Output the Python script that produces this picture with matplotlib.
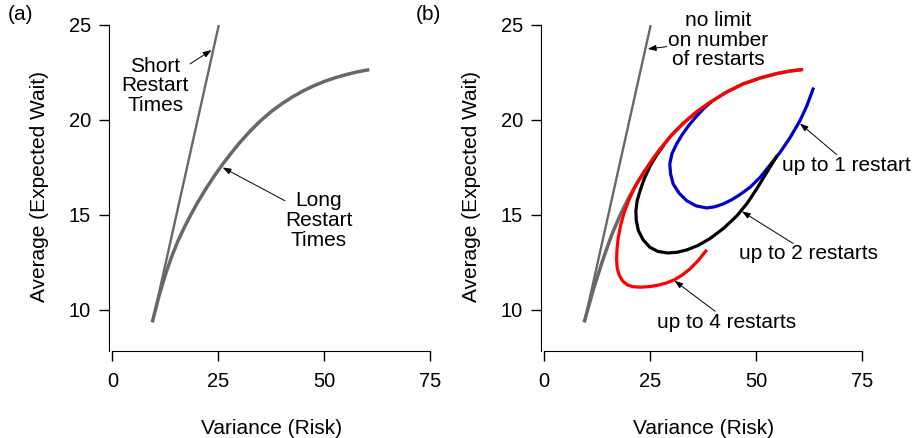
import matplotlib.pyplot as plt

plt.rcParams['font.family'] = ['Liberation Sans', 'DejaVu Sans']

# straight line (short restart times / no limit on restarts)
short_x = [9.45, 25.1]
short_y = [9.35, 25.0]

# panel (a): curved line, long restart times
long_x = [9.4, 11.0, 12.5, 14.0, 15.5, 17.0, 18.5, 20.0, 22.0, 24.0, 26.0, 28.0, 30.0, 32.5, 35.0,
          37.5, 40.0, 42.5, 45.0, 47.5, 50.0, 52.5, 55.0, 57.5, 60.6]
long_y = [9.35, 10.74, 11.86, 12.82, 13.65, 14.36, 15.01, 15.62, 16.36, 17.04, 17.67, 18.25, 18.8, 19.42, 19.97,
          20.45, 20.86, 21.22, 21.53, 21.8, 22.03, 22.22, 22.38, 22.52, 22.65]

# panel (b): gray curved envelope
env_x = [9.4, 11.6, 13.9, 15.9, 17.9, 19.9, 21.8, 23.5, 25.4, 27.3, 30.0, 32.8, 35.9, 39.1, 43.0,
         46.9, 50.9, 54.8, 57.8, 60.7]
env_y = [9.35, 11.1, 12.7, 13.95, 15.0, 15.9, 16.65, 17.25, 17.88, 18.46, 19.2, 19.83, 20.42, 20.93, 21.47,
         21.9, 22.21, 22.44, 22.57, 22.65]

# up to 4 restarts (red)
four_x = [38.1, 36.3, 34.4, 32.6, 30.8, 28.8, 26.8, 24.8, 22.8, 21.0, 19.6, 18.5, 17.7, 17.2, 17.05, 17.15,
          17.45, 18.0, 18.8, 19.9, 21.0, 21.8, 23.5, 25.4, 27.3, 30.0, 32.8, 35.9, 39.1, 43.0,
          46.9, 50.9, 54.8, 57.8, 60.7]
four_y = [13.1, 12.6, 12.17, 11.85, 11.6, 11.42, 11.3, 11.23, 11.2, 11.22, 11.32, 11.52, 11.82, 12.2, 12.65, 13.2,
          13.8, 14.45, 15.1, 15.75, 16.3, 16.65, 17.25, 17.88, 18.46, 19.2, 19.83, 20.42, 20.93, 21.47,
          21.9, 22.21, 22.44, 22.57, 22.65]

# up to 2 restarts (black)
two_x = [54.8, 52.5, 50.1, 47.8, 45.4, 42.3, 39.1, 36.3, 33.6, 31.4, 29.2, 26.8, 24.9, 23.3, 22.2, 21.7,
         21.6, 21.9, 22.6, 23.6, 24.9, 26.5, 28.0]
two_y = [18.08, 17.25, 16.37, 15.6, 14.95, 14.3, 13.76, 13.4, 13.16, 13.04, 13.0, 13.08, 13.3, 13.7, 14.17, 14.7,
         15.2, 15.75, 16.28, 16.92, 17.55, 18.15, 18.62]

# up to 1 restart (blue)
one_x = [63.4, 61.9, 60.3, 58.0, 55.6, 53.2, 50.9, 48.6, 46.2, 44.2, 42.2, 40.2, 38.3, 35.8, 33.6, 31.8,
         30.4, 29.8, 29.6, 30.1, 31.2, 32.6, 34.2, 36.0, 37.6, 39.1]
one_y = [21.63, 20.73, 19.96, 19.08, 18.29, 17.62, 16.98, 16.47, 16.08, 15.8, 15.58, 15.43, 15.37, 15.48, 15.75, 16.15,
         16.63, 17.15, 17.68, 18.22, 18.74, 19.25, 19.75, 20.22, 20.6, 20.9]

x_ticks = [0, 25, 50, 75]
y_ticks = [10, 15, 20, 25]

GRAY = '#686868'
W, H = 917, 438

fig = plt.figure(figsize=(W / 100, H / 100), dpi=100)
ax1 = fig.add_axes([109 / W, (H - 351) / H, 325.6 / W, 329.8 / H])
ax2 = fig.add_axes([540.9 / W, (H - 351) / H, 325.6 / W, 329.8 / H])


def style_axes(ax):
    ax.set_xlim(-0.8, 76)
    ax.set_ylim(7.84, 25.2)
    ax.spines['top'].set_visible(False)
    ax.spines['right'].set_visible(False)
    ax.spines['bottom'].set_bounds(0, 75)
    ax.spines['left'].set_bounds(7.84, 25)
    ax.set_xticks(x_ticks)
    ax.set_yticks(y_ticks)
    ax.tick_params(direction='out', length=7, width=1, labelsize=14.5, pad=6)
    ax.tick_params(axis='x', pad=8)
    ax.set_xlabel('Variance (Risk)', fontsize=15, labelpad=20)
    ax.set_ylabel('Average (Expected Wait)', fontsize=15, labelpad=14)
    ax.patch.set_visible(False)


def pointer(ax, head, tail):
    ax.annotate('', xy=head, xytext=tail,
                arrowprops=dict(arrowstyle='-|>,head_length=0.5,head_width=0.18',
                                color='black', lw=0.7, shrinkA=0, shrinkB=0))


# panel (a)
style_axes(ax1)
ax1.plot(short_x, short_y, color=GRAY, lw=1.7, solid_capstyle='butt')
ax1.plot(long_x, long_y, color=GRAY, lw=2.5, solid_capstyle='butt')
ax1.text(10.1, 21.8, 'Short\nRestart\nTimes', fontsize=15, ha='center', va='center', linespacing=1.05)
ax1.text(48.7, 14.7, 'Long\nRestart\nTimes', fontsize=15, ha='center', va='center', linespacing=1.05)
pointer(ax1, (23.4, 23.68), (18.3, 22.95))
pointer(ax1, (26.0, 17.5), (40.7, 15.75))

# panel (b)
style_axes(ax2)
ax2.plot(short_x, short_y, color=GRAY, lw=1.7, solid_capstyle='butt')
ax2.plot(env_x, env_y, color=GRAY, lw=2.5, solid_capstyle='butt')
ax2.plot(one_x, one_y, color='#0000c8', lw=2.3)
ax2.plot(two_x, two_y, color='black', lw=2.3)
ax2.plot(four_x, four_y, color='#ff0000', lw=2.3)
ax2.text(41.0, 24.2, 'no limit\non number\nof restarts', fontsize=15, ha='center', va='center', linespacing=1.05)
ax2.text(56.0, 17.6, 'up to 1 restart', fontsize=15, ha='left', va='center')
ax2.text(46.0, 12.95, 'up to 2 restarts', fontsize=15, ha='left', va='center')
ax2.text(26.65, 9.35, 'up to 4 restarts', fontsize=15, ha='left', va='center')
pointer(ax2, (24.4, 23.74), (28.9, 23.86))
pointer(ax2, (60.3, 19.82), (69.0, 18.17))
pointer(ax2, (46.6, 15.19), (58.7, 13.5))
pointer(ax2, (30.7, 11.54), (40.3, 9.93))

fig.text(8 / W, 1 - 14 / H, '(a)', fontsize=15, ha='left', va='center')
fig.text(416 / W, 1 - 14 / H, '(b)', fontsize=15, ha='left', va='center')

fig.savefig('out.png', dpi=100)
